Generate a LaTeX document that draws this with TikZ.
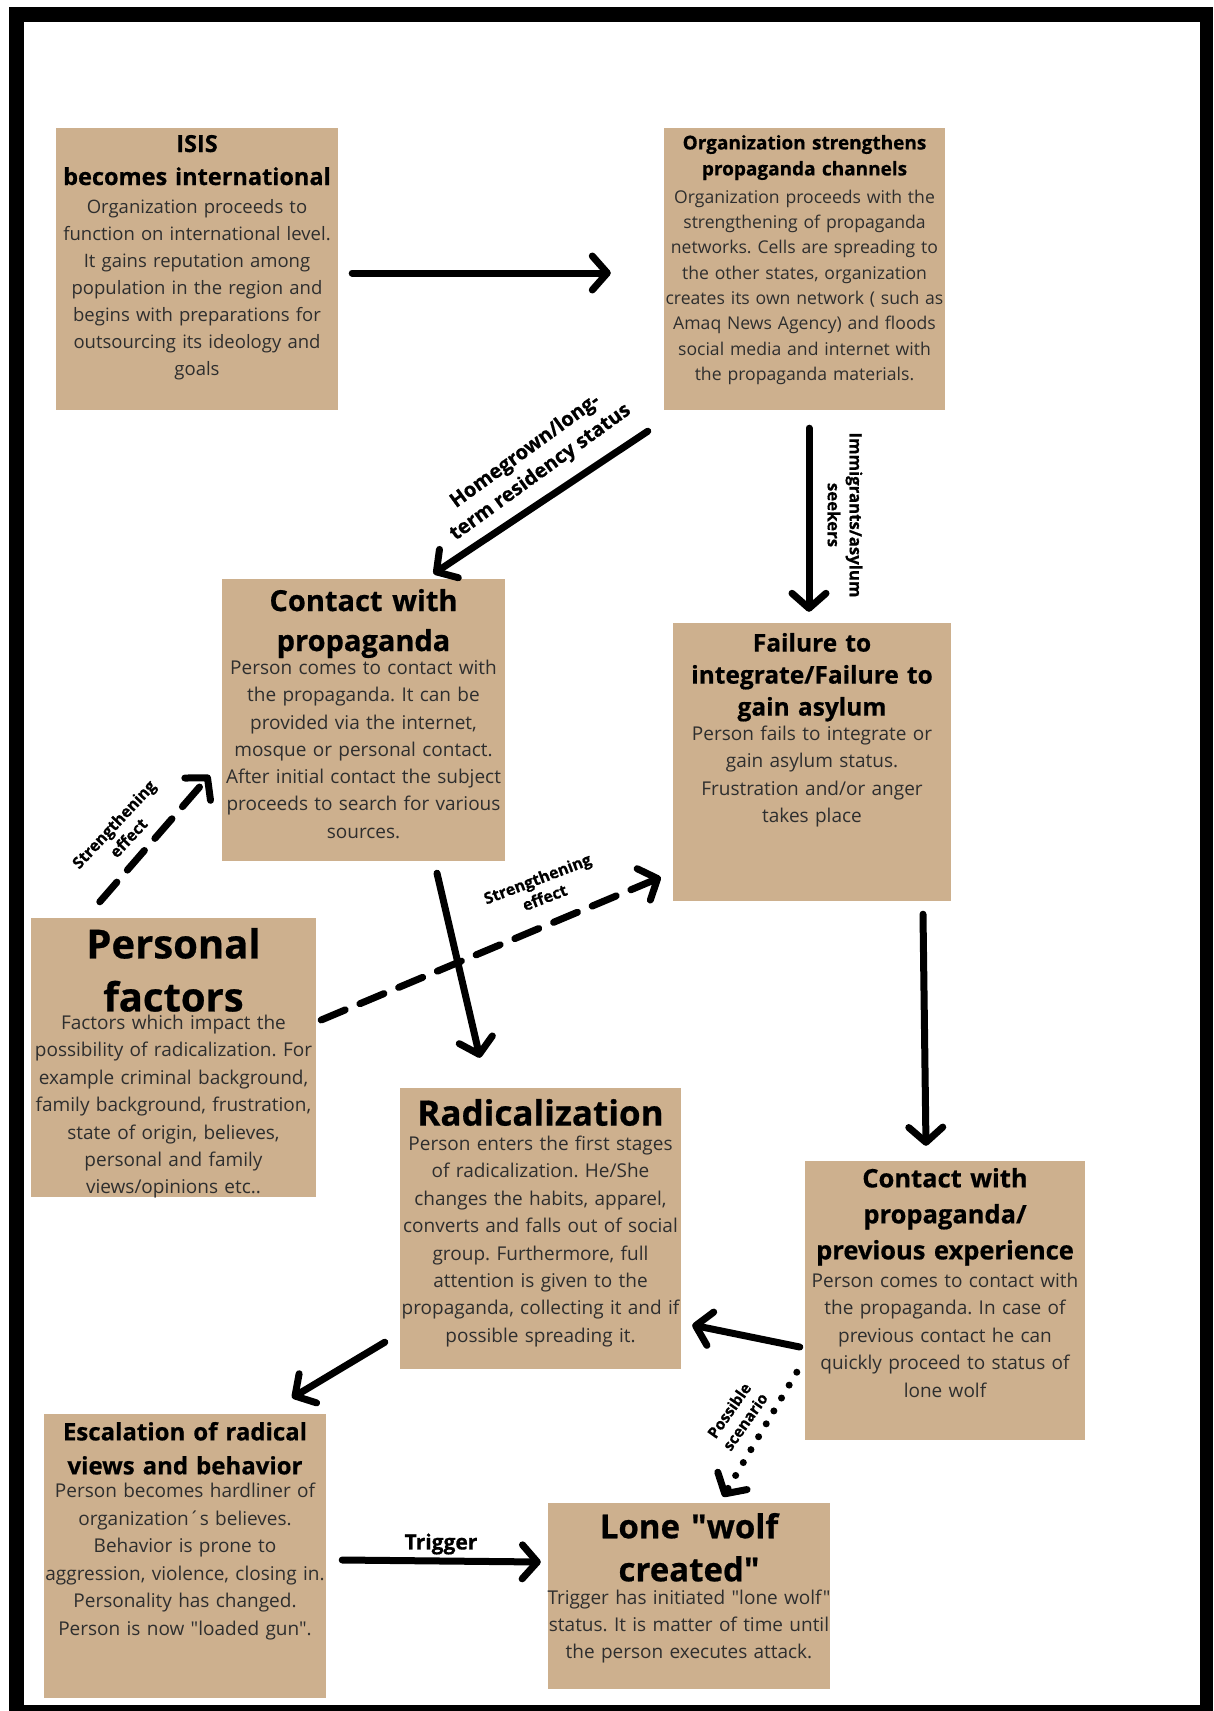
\documentclass[tikz,border=0pt]{standalone}
\usepackage{fontspec}
\setmainfont{Open Sans}[Ligatures=TeXOff, BoldFeatures={FakeBold=0.6}]
\usetikzlibrary{arrows.meta,calc}
\definecolor{tanbox}{HTML}{CDB08E}
\definecolor{bodygray}{HTML}{2E2E2E}
\frenchspacing
\tikzset{
  box/.style={fill=tanbox, draw=none, inner sep=0pt},
  head/.style={anchor=north, align=center, inner sep=0pt, text width=296pt, text=black},
  bodytxt/.style={anchor=north, align=center, inner sep=0pt, text width=296pt, text=bodygray},
  arr/.style={draw=black, line width=7pt, line cap=round, -{Straight Barb[length=15pt,width=34pt,round]}},
  dasharr/.style={arr, dash pattern=on 26pt off 16pt},
  dotarr/.style={arr, dash pattern=on 0pt off 15pt},
  lbl/.style={align=center, inner sep=0pt, text=black}
}
\newcommand\hf[2]{\bfseries\fontsize{#1}{#2}\selectfont}
\newcommand\rf[2]{\fontsize{#1}{#2}\selectfont}
\begin{document}
\begin{tikzpicture}[x=1pt,y=-1pt]
\useasboundingbox (0,0) rectangle (1213,1711);
\fill[white] (0,0) rectangle (1213,1711);
\fill[black] (9,7) rectangle (1213,1711);
\fill[white] (24,22) rectangle (1200,1705);

% boxes
\node[box, minimum width=282pt, minimum height=282pt] (isis) at (197,269) {};
\node[box, minimum width=281pt, minimum height=282pt] (org) at (804.5,269) {};
\node[box, minimum width=283pt, minimum height=282pt] (contact) at (363.5,720) {};
\node[box, minimum width=278pt, minimum height=278pt] (failure) at (812,762) {};
\node[box, minimum width=285pt, minimum height=279pt] (personal) at (173.5,1057.5) {};
\node[box, minimum width=281pt, minimum height=281pt] (radical) at (540.5,1228.5) {};
\node[box, minimum width=280pt, minimum height=279pt] (contact2) at (945,1300.5) {};
\node[box, minimum width=282pt, minimum height=284pt] (escal) at (185,1556) {};
\node[box, minimum width=282pt, minimum height=186pt] (lone) at (689,1596) {};

% texts
\node[head, font=\hf{23.5}{33}] (isisH) at ($(isis.north)+(0,7)$) {ISIS\\becomes international};
\node[bodytxt, font=\rf{18.5}{27}] (isisB) at ($(isis.north)+(0,71)$) {Organization proceeds to\\function on international level.\\It gains reputation among\\population in the region and\\begins with preparations for\\outsourcing its ideology and\\goals};

\node[head, font=\hf{19}{26}] (orgH) at ($(org.north)+(0,7)$) {Organization strengthens\\propaganda channels};
\node[bodytxt, font=\rf{17.6}{25.3}] (orgB) at ($(org.north)+(0,62)$) {Organization proceeds with the\\strengthening of propaganda\\networks. Cells are spreading to\\the other states, organization\\creates its own network ( such as\\Amaq News Agency) and floods\\social media and internet with\\the propaganda materials.};

\node[head, font=\hf{29}{40}] (contactH) at ($(contact.north)+(0,10)$) {Contact with\\propaganda};
\node[bodytxt, font=\rf{19}{27.3}] (contactB) at ($(contact.north)+(0,81)$) {Person comes to contact with\\the propaganda. It can be\\provided via the internet,\\mosque or personal contact.\\After initial contact the subject\\proceeds to search for various\\sources.};

\node[head, font=\hf{24.5}{32}] (failureH) at ($(failure.north)+(0,10)$) {Failure to\\integrate/Failure to\\gain asylum};
\node[bodytxt, font=\rf{19}{27.3}] (failureB) at ($(failure.north)+(0,103)$) {Person fails to integrate or\\gain asylum status.\\Frustration and/or anger\\takes place};

\node[head, font=\hf{40}{53}] (personalH) at ($(personal.north)+(0,10)$) {Personal\\factors};
\node[bodytxt, font=\rf{19}{27.4}] (personalB) at ($(personal.north)+(0,97)$) {Factors which impact the\\possibility of radicalization. For\\example criminal background,\\family background, frustration,\\state of origin, believes,\\personal and family\\views/opinions etc..};

\node[head, font=\hf{35}{43}] (radicalH) at ($(radical.north)+(0,11)$) {Radicalization};
\node[bodytxt, font=\rf{19}{27.4}] (radicalB) at ($(radical.north)+(0,48)$) {Person enters the first stages\\of radicalization. He/She\\changes the habits, apparel,\\converts and falls out of social\\group. Furthermore, full\\attention is given to the\\propaganda, collecting it and if\\possible spreading it.};

\node[head, font=\hf{25.5}{36}] (contact2H) at ($(contact2.north)+(0,7)$) {Contact with\\propaganda/\\previous experience};
\node[bodytxt, font=\rf{19}{27.5}] (contact2B) at ($(contact2.north)+(0,112)$) {Person comes to contact with\\the propaganda. In case of\\previous contact he can\\quickly proceed to status of\\lone wolf};

\node[head, font=\hf{24}{34}] (escalH) at ($(escal.north)+(0,8)$) {Escalation of radical\\views and behavior};
\node[bodytxt, font=\rf{19}{27.6}] (escalB) at ($(escal.north)+(0,69)$) {Person becomes hardliner of\\organization´s believes.\\Behavior is prone to\\aggression, violence, closing in.\\Personality has changed.\\Person is now "loaded gun".};

\node[head, font=\hf{33}{43}] (loneH) at ($(lone.north)+(0,10)$) {Lone "wolf\\created"};
\node[bodytxt, font=\rf{19}{27.2}] (loneB) at ($(lone.north)+(0,87)$) {Trigger has initiated "lone wolf"\\status. It is matter of time until\\the person executes attack.};

% connectors
\draw[arr] ($(isis.east)+(14,4)$) -- ($(org.west)+(-53,4)$);
\draw[arr] ($(org.south west)+(-16,21)$) -- ($(contact.north)+(70,-5)$);
\draw[arr] ($(org.south)+(4.5,18)$) -- ($(failure.north)+(-3,-11)$);
\draw[dasharr] ($(personal.north west)+(69,-16)$) -- ($(contact.south west)+(-12,-86)$);
\draw[dasharr] ($(personal.east)+(5,-37.5)$) -- ($(failure.south west)+(-12,-24)$);
\draw[arr] ($(contact.south)+(73.5,12)$) -- ($(radical.north)+(-60.5,-30)$);
\draw[arr] ($(failure.south)+(111,13)$) -- ($(contact2.north)+(-19,-15)$);
\draw[arr] ($(contact2.west)+(-5,46.5)$) -- ($(radical.east)+(11,96.5)$);
\draw[arr] ($(radical.south west)+(-15,-27)$) -- ($(escal.north)+(107,-16)$);
\draw[arr] ($(escal.east)+(16,4)$) -- ($(lone.west)+(-7,-34)$);
\draw[dotarr] ($(contact2.south west)+(-8,-68)$) -- ($(lone.north)+(34,-6)$);

% labels
\node[lbl, rotate=36, font=\hf{20}{26}] (lblHome) at (533,462) {Homegrown/long-\\term residency status};
\node[lbl, rotate=-90, font=\hf{16.8}{22}] (lblImm) at (845,515) {Immigrants/asylum\\seekers};
\node[lbl, rotate=47, font=\hf{16}{20}] (lblStr1) at (121,831) {Strengthening\\effect};
\node[lbl, rotate=21, font=\hf{16}{20}] (lblStr2) at (541,888) {Strengthening\\effect};
\node[lbl, rotate=55, font=\hf{15.5}{19.5}] (lblPoss) at (737,1416) {Possible\\scenario};
\node[lbl, font=\hf{21}{25}] (lblTrig) at (441,1544) {Trigger};
\end{tikzpicture}
\end{document}
